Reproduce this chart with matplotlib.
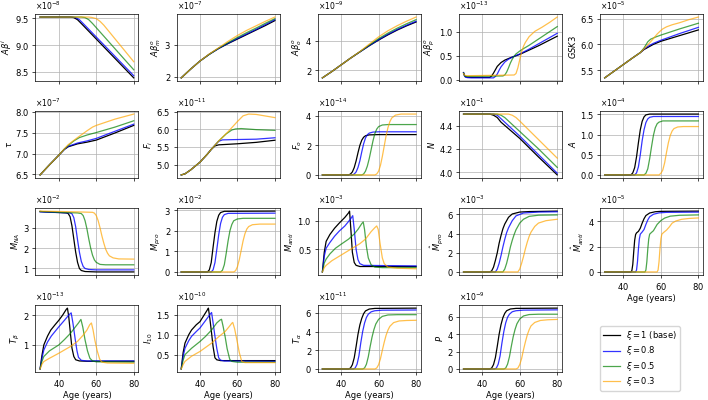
import matplotlib
matplotlib.use("Agg")
import matplotlib.pyplot as plt

plt.rcParams.update({'font.size': 6,
                     'axes.formatter.use_mathtext': True,
                     'axes.linewidth': 0.5,
                     'xtick.major.size': 2, 'ytick.major.size': 2,
                     'xtick.major.width': 0.5, 'ytick.major.width': 0.5,
                     'xtick.major.pad': 2, 'ytick.major.pad': 2,
                     'grid.linewidth': 0.5,
                     'axes.labelpad': 2})

# each panel: 4 curves (xi = 1, 0.8, 0.5, 0.3), points are (age, value / scale)
legend_labels = [r'$\xi = 1$ (base)', r'$\xi = 0.8$', r'$\xi = 0.5$', r'$\xi = 0.3$']
age_ticks = [40, 60, 80]

abi = [
    [(30, 9.52), (46, 9.52), (48, 9.51), (50, 9.47), (52, 9.40), (80, 8.39)],
    [(30, 9.52), (47, 9.52), (49, 9.51), (51, 9.47), (53, 9.40), (80, 8.43)],
    [(30, 9.52), (52, 9.52), (54, 9.51), (56, 9.47), (58, 9.40), (80, 8.54)],
    [(30, 9.52), (56, 9.52), (58, 9.51), (60, 9.49), (62, 9.44), (64, 9.37), (80, 8.69)],
]
abm = [
    [(30, 1.97), (35, 2.24), (40, 2.49), (45, 2.70), (50, 2.88), (55, 3.03), (60, 3.17), (65, 3.31), (70, 3.45), (75, 3.59), (80, 3.74)],
    [(30, 1.97), (35, 2.24), (40, 2.49), (45, 2.70), (50, 2.88), (55, 3.04), (60, 3.19), (65, 3.33), (70, 3.47), (75, 3.62), (80, 3.77)],
    [(30, 1.97), (35, 2.24), (40, 2.49), (45, 2.70), (50, 2.89), (55, 3.06), (60, 3.22), (65, 3.37), (70, 3.51), (75, 3.66), (80, 3.80)],
    [(30, 1.97), (35, 2.24), (40, 2.49), (45, 2.71), (50, 2.90), (55, 3.10), (60, 3.28), (65, 3.44), (70, 3.58), (75, 3.72), (80, 3.85)],
]
abo = [
    [(30, 1.47), (35, 1.90), (40, 2.36), (45, 2.82), (50, 3.25), (55, 3.67), (60, 4.06), (65, 4.42), (70, 4.75), (75, 5.04), (80, 5.30)],
    [(30, 1.47), (35, 1.90), (40, 2.36), (45, 2.82), (50, 3.25), (55, 3.68), (60, 4.09), (65, 4.46), (70, 4.79), (75, 5.08), (80, 5.35)],
    [(30, 1.47), (35, 1.90), (40, 2.36), (45, 2.82), (50, 3.26), (55, 3.72), (60, 4.16), (65, 4.54), (70, 4.88), (75, 5.18), (80, 5.46)],
    [(30, 1.47), (35, 1.90), (40, 2.36), (45, 2.82), (50, 3.27), (55, 3.78), (60, 4.28), (65, 4.70), (70, 5.05), (75, 5.36), (80, 5.64)],
]
abp = [
    [(30, 0.15), (30.5, 0.09), (31, 0.065), (32, 0.055), (34, 0.05), (44, 0.05), (45, 0.08), (46, 0.14), (47, 0.21), (48, 0.28),
     (50, 0.36), (52, 0.41), (55, 0.46), (60, 0.53), (65, 0.62), (70, 0.71), (75, 0.81), (80, 0.91)],
    [(30, 0.15), (30.5, 0.08), (31, 0.055), (32, 0.045), (34, 0.04), (46, 0.04), (47, 0.07), (48, 0.12), (49, 0.20), (50, 0.27),
     (52, 0.37), (54, 0.43), (57, 0.49), (60, 0.54), (65, 0.64), (70, 0.75), (75, 0.86), (80, 0.97)],
    [(30, 0.14), (30.5, 0.09), (31, 0.075), (32, 0.07), (40, 0.075), (51, 0.08), (52, 0.10), (53, 0.16), (54, 0.25), (55, 0.35),
     (56, 0.43), (57, 0.49), (58, 0.54), (60, 0.60), (62, 0.65), (65, 0.72), (70, 0.85), (75, 0.98), (80, 1.11)],
    [(30, 0.13), (30.5, 0.10), (31, 0.09), (32, 0.085), (40, 0.09), (50, 0.095), (57, 0.10), (58, 0.13), (59, 0.25), (60, 0.42),
     (61, 0.58), (62, 0.70), (63, 0.78), (65, 0.90), (68, 1.01), (72, 1.10), (76, 1.20), (80, 1.31)],
]
gsk3 = [
    [(30, 5.35), (35, 5.48), (40, 5.61), (45, 5.74), (49, 5.84), (51, 5.90), (53, 5.94), (56, 6.00), (60, 6.06), (70, 6.17), (80, 6.28)],
    [(30, 5.35), (35, 5.48), (40, 5.61), (45, 5.74), (49, 5.84), (51, 5.91), (53, 5.96), (56, 6.02), (60, 6.08), (70, 6.21), (80, 6.33)],
    [(30, 5.35), (35, 5.48), (40, 5.61), (45, 5.74), (49, 5.84), (51, 5.93), (53, 6.05), (54.5, 6.10), (57, 6.14), (60, 6.18),
     (70, 6.30), (80, 6.41)],
    [(30, 5.35), (35, 5.48), (40, 5.61), (45, 5.74), (49, 5.84), (52, 5.95), (55, 6.07), (58, 6.20), (60, 6.27), (61, 6.30),
     (63, 6.34), (66, 6.38), (70, 6.42), (75, 6.48), (80, 6.53)],
]
tau = [
    [(30, 6.49), (35, 6.73), (40, 6.96), (43, 7.10), (45, 7.16), (50, 7.23), (55, 7.27), (60, 7.32), (70, 7.49), (80, 7.67)],
    [(30, 6.49), (35, 6.73), (40, 6.96), (43, 7.10), (45, 7.17), (50, 7.25), (55, 7.30), (60, 7.36), (70, 7.53), (80, 7.70)],
    [(30, 6.49), (35, 6.73), (40, 6.96), (43, 7.11), (45, 7.19), (48, 7.30), (51, 7.38), (55, 7.44), (60, 7.50), (70, 7.63), (80, 7.78)],
    [(30, 6.49), (35, 6.73), (40, 6.96), (43, 7.11), (45, 7.21), (50, 7.38), (55, 7.54), (58, 7.63), (60, 7.67), (62, 7.70),
     (70, 7.82), (80, 7.94)],
]
f_i = [
    [(30, 4.71), (32, 4.74), (35, 4.85), (40, 5.07), (44, 5.30), (46, 5.43), (48, 5.53), (50, 5.56), (60, 5.59), (70, 5.63), (80, 5.69)],
    [(30, 4.71), (32, 4.74), (35, 4.85), (40, 5.07), (44, 5.30), (46, 5.43), (48, 5.55), (50, 5.66), (52, 5.70), (60, 5.71),
     (70, 5.72), (80, 5.76)],
    [(30, 4.71), (32, 4.74), (35, 4.85), (40, 5.07), (44, 5.30), (46, 5.43), (48, 5.55), (50, 5.67), (54, 5.87), (57, 5.98),
     (59, 6.01), (62, 6.02), (70, 5.99), (80, 5.97)],
    [(30, 4.71), (32, 4.74), (35, 4.85), (40, 5.07), (44, 5.30), (46, 5.43), (48, 5.55), (50, 5.67), (55, 5.93), (60, 6.22),
     (63, 6.38), (66, 6.43), (70, 6.42), (80, 6.33)],
]
f_o = [
    [(30, 0), (44, 0), (45, 0.06), (46, 0.2), (47, 0.5), (48, 0.95), (49, 1.5), (50, 2.0), (51, 2.35), (52, 2.55), (53, 2.65),
     (55, 2.71), (60, 2.73), (80, 2.73)],
    [(30, 0), (46, 0), (47, 0.06), (48, 0.2), (49, 0.5), (50, 0.95), (51, 1.55), (52, 2.1), (53, 2.5), (54, 2.72), (55, 2.83),
     (57, 2.9), (60, 2.92), (80, 2.92)],
    [(30, 0), (51, 0), (52, 0.06), (53, 0.25), (54, 0.6), (55, 1.1), (56, 1.7), (57, 2.3), (58, 2.8), (59, 3.1), (60, 3.27),
     (62, 3.38), (65, 3.41), (80, 3.41)],
    [(30, 0), (58, 0), (59, 0.06), (60, 0.25), (61, 0.65), (62, 1.25), (63, 1.95), (64, 2.65), (65, 3.2), (66, 3.6), (67, 3.85),
     (69, 4.05), (72, 4.12), (80, 4.12)],
]
neu = [
    [(30, 4.50), (44, 4.50), (46, 4.49), (48, 4.47), (50, 4.43), (60, 4.29), (70, 4.13), (80, 3.975)],
    [(30, 4.50), (46, 4.50), (48, 4.49), (50, 4.46), (52, 4.43), (60, 4.31), (70, 4.15), (80, 3.99)],
    [(30, 4.50), (48, 4.50), (50, 4.49), (52, 4.47), (54, 4.44), (60, 4.35), (70, 4.20), (80, 4.04)],
    [(30, 4.50), (54, 4.50), (56, 4.49), (58, 4.47), (60, 4.44), (70, 4.28), (80, 4.12)],
]
astro = [
    [(30, 0), (44, 0), (45, 0.05), (46, 0.18), (47, 0.45), (48, 0.8), (49, 1.12), (50, 1.33), (51, 1.44), (52, 1.49),
     (54, 1.51), (80, 1.51)],
    [(30, 0), (46, 0), (47, 0.05), (48, 0.2), (49, 0.5), (50, 0.85), (51, 1.12), (52, 1.3), (53, 1.39), (54, 1.43),
     (56, 1.45), (80, 1.45)],
    [(30, 0), (51, 0), (52, 0.04), (53, 0.15), (54, 0.4), (55, 0.7), (56, 0.98), (57, 1.17), (58, 1.27), (59, 1.31),
     (61, 1.34), (80, 1.34)],
    [(30, 0), (59, 0), (60, 0.04), (61, 0.12), (62, 0.3), (63, 0.56), (64, 0.8), (65, 0.98), (66, 1.09), (67, 1.15),
     (69, 1.19), (72, 1.2), (80, 1.2)],
]
m_na = [
    [(30, 3.80), (35, 3.77), (40, 3.75), (44, 3.73), (45, 3.70), (46, 3.55), (47, 3.1), (48, 2.45), (49, 1.8), (50, 1.3),
     (51, 1.0), (52, 0.9), (54, 0.85), (60, 0.83), (80, 0.83)],
    [(30, 3.78), (35, 3.76), (40, 3.75), (46, 3.73), (47, 3.69), (48, 3.5), (49, 3.05), (50, 2.4), (51, 1.8), (52, 1.35),
     (53, 1.1), (54, 1.0), (56, 0.95), (60, 0.93), (80, 0.93)],
    [(30, 3.80), (40, 3.76), (50, 3.73), (52, 3.70), (53, 3.6), (54, 3.35), (55, 2.95), (56, 2.45), (57, 2.0), (58, 1.65),
     (59, 1.42), (60, 1.3), (62, 1.2), (65, 1.18), (80, 1.18)],
    [(30, 3.82), (40, 3.80), (50, 3.78), (58, 3.76), (59, 3.72), (60, 3.6), (61, 3.35), (62, 3.0), (63, 2.6), (64, 2.25),
     (65, 1.95), (66, 1.75), (67, 1.62), (69, 1.52), (72, 1.47), (80, 1.46)],
]
m_pro = [
    [(30, 0), (44, 0), (45, 0.1), (46, 0.45), (47, 1.2), (48, 1.9), (49, 2.45), (50, 2.75), (51, 2.88), (53, 2.94), (80, 2.95)],
    [(30, 0), (46, 0), (47, 0.1), (48, 0.45), (49, 1.1), (50, 1.8), (51, 2.35), (52, 2.65), (53, 2.78), (55, 2.84), (80, 2.85)],
    [(30, 0), (51, 0), (52, 0.08), (53, 0.35), (54, 0.9), (55, 1.5), (56, 2.0), (57, 2.3), (58, 2.48), (60, 2.57),
     (63, 2.6), (80, 2.6)],
    [(30, 0), (58, 0), (59, 0.06), (60, 0.25), (61, 0.6), (62, 1.05), (63, 1.5), (64, 1.85), (65, 2.08), (66, 2.2),
     (68, 2.29), (72, 2.32), (80, 2.32)],
]
m_anti = [
    [(30, 0.105), (31, 0.45), (32, 0.64), (34, 0.76), (36.5, 0.87), (39, 0.96), (42, 1.06), (44, 1.14), (44.5, 1.17),
     (45.2, 0.85), (46, 0.45), (47, 0.27), (48, 0.22), (50, 0.20), (80, 0.20)],
    [(30, 0.105), (31, 0.38), (32, 0.52), (34, 0.62), (36.5, 0.73), (39, 0.82), (42, 0.91), (45, 1.03), (46.2, 1.09),
     (47, 0.85), (48, 0.5), (49, 0.32), (50, 0.25), (52, 0.22), (80, 0.21)],
    [(30, 0.105), (31, 0.26), (32, 0.33), (34, 0.42), (37, 0.52), (40, 0.59), (44, 0.68), (47, 0.77), (49, 0.85),
     (51, 0.95), (51.8, 0.98), (52.5, 0.85), (53.5, 0.55), (54.5, 0.35), (56, 0.23), (58, 0.19), (62, 0.18), (80, 0.18)],
    [(30, 0.105), (31, 0.18), (32, 0.22), (35, 0.30), (40, 0.40), (45, 0.50), (50, 0.60), (53, 0.68), (56, 0.81),
     (58, 0.88), (59, 0.91), (59.8, 0.85), (60.8, 0.6), (62, 0.35), (63, 0.25), (65, 0.19), (70, 0.17), (80, 0.16)],
]
mh_pro = [
    [(30, 0), (44, 0), (45, 0.1), (46, 0.5), (47, 1.2), (48, 2.0), (49, 3.0), (50, 3.8), (51, 4.5), (52, 5.0), (54, 5.7),
     (56, 6.05), (60, 6.25), (65, 6.3), (80, 6.35)],
    [(30, 0), (47, 0), (48, 0.3), (49, 0.9), (50, 1.7), (51, 2.6), (52, 3.4), (53, 4.1), (54, 4.6), (56, 5.35), (58, 5.85),
     (62, 6.15), (70, 6.25), (80, 6.28)],
    [(30, 0), (51, 0), (52, 0.3), (53, 0.9), (54, 1.7), (55, 2.6), (56, 3.3), (57, 3.9), (58, 4.4), (60, 5.1), (62, 5.5),
     (65, 5.8), (70, 5.92), (80, 5.95)],
    [(30, 0), (59, 0), (60, 0.3), (61, 0.9), (62, 1.6), (63, 2.4), (64, 3.1), (65, 3.7), (66, 4.15), (68, 4.75), (70, 5.1),
     (74, 5.35), (80, 5.5)],
]
mh_anti = [
    [(30, 0), (44, 0), (44.5, 0.1), (45, 0.6), (45.5, 1.6), (46, 2.5), (46.5, 2.95), (47, 3.08), (48, 3.2), (49, 3.45),
     (50, 3.85), (51, 4.2), (52, 4.45), (54, 4.65), (57, 4.75), (60, 4.78), (80, 4.8)],
    [(30, 0), (46.5, 0), (47, 0.15), (47.5, 0.8), (48, 1.8), (48.5, 2.6), (49, 2.98), (50, 3.15), (51, 3.35), (52, 3.75),
     (53, 4.1), (54, 4.35), (56, 4.55), (59, 4.66), (63, 4.7), (80, 4.72)],
    [(30, 0), (51.5, 0), (52, 0.15), (52.5, 0.8), (53, 1.8), (53.5, 2.6), (54, 2.98), (55, 3.12), (56, 3.25), (57, 3.5),
     (58, 3.75), (60, 4.05), (62, 4.25), (65, 4.4), (70, 4.47), (80, 4.5)],
    [(30, 0), (58, 0), (58.5, 0.15), (59, 0.8), (59.5, 1.8), (60, 2.6), (60.5, 2.98), (61.5, 3.12), (63, 3.3), (64.5, 3.55),
     (66, 3.85), (68, 4.02), (71, 4.15), (75, 4.22), (80, 4.26)],
]
t_beta = [
    [(30, 0.19), (31, 0.65), (32, 1.0), (34, 1.3), (35.7, 1.5), (38, 1.68), (40, 1.83), (42, 2.0), (44, 2.2), (44.6, 2.24),
     (45.3, 1.95), (46.2, 1.39), (47, 0.9), (48, 0.61), (49, 0.5), (51, 0.46), (55, 0.45), (80, 0.45)],
    [(30, 0.19), (31, 0.55), (32, 0.83), (34, 1.1), (36, 1.3), (40, 1.61), (43, 1.83), (45.5, 2.02), (46.6, 2.08),
     (47.5, 1.75), (48.8, 1.17), (49.7, 0.8), (50.5, 0.58), (52, 0.48), (55, 0.46), (80, 0.46)],
    [(30, 0.19), (31, 0.45), (32, 0.61), (35, 0.8), (40, 1.0), (43, 1.18), (46.2, 1.39), (49, 1.62), (50.5, 1.74),
     (51.8, 1.86), (52.8, 1.6), (54, 1.17), (55.3, 0.8), (56.6, 0.55), (58, 0.46), (60, 0.43), (80, 0.42)],
    [(30, 0.19), (31, 0.35), (32, 0.44), (35, 0.55), (40, 0.72), (46, 0.94), (50, 1.12), (53, 1.33), (55, 1.5),
     (56.5, 1.68), (57.4, 1.74), (58.3, 1.5), (59.2, 1.17), (60.5, 0.8), (61.8, 0.52), (63, 0.42), (66, 0.39), (80, 0.38)],
]
i_10 = [
    [(30, 0.14), (31, 0.55), (32, 0.79), (34, 1.0), (35.5, 1.12), (38, 1.25), (40, 1.33), (42, 1.48), (44, 1.63),
     (44.5, 1.67), (45.3, 1.4), (46.2, 1.04), (47, 0.7), (48, 0.42), (49, 0.37), (51, 0.35), (80, 0.35)],
    [(30, 0.14), (31, 0.45), (32, 0.66), (34, 0.85), (35.5, 0.96), (38, 1.08), (40, 1.17), (43, 1.36), (45.5, 1.52),
     (46.2, 1.56), (47, 1.3), (48, 0.96), (49, 0.65), (50, 0.42), (51, 0.36), (53, 0.34), (80, 0.33)],
    [(30, 0.14), (31, 0.36), (32, 0.5), (35.5, 0.66), (40, 0.83), (43, 0.96), (46.2, 1.12), (49, 1.3), (50.7, 1.37),
     (51.5, 1.39), (52.4, 1.2), (53.4, 0.96), (54.5, 0.65), (55.9, 0.38), (57, 0.33), (60, 0.31), (80, 0.31)],
    [(30, 0.14), (31, 0.25), (32, 0.33), (35.5, 0.46), (40, 0.58), (46.2, 0.79), (50, 0.95), (53.4, 1.08), (55.5, 1.2),
     (57, 1.29), (57.5, 1.31), (58.5, 1.15), (59.7, 0.87), (61, 0.55), (62.3, 0.33), (64, 0.3), (80, 0.3)],
]
t_alpha = [
    [(30, 0), (44, 0), (45, 0.1), (46, 0.45), (47, 1.2), (48, 2.4), (49, 3.7), (50, 4.7), (51, 5.4), (52, 5.9), (53, 6.2),
     (55, 6.4), (58, 6.47), (80, 6.5)],
    [(30, 0), (46.5, 0), (47.5, 0.1), (48.5, 0.5), (49.5, 1.4), (50.5, 2.8), (51.5, 4.0), (52.5, 4.9), (53.5, 5.5),
     (54.5, 5.85), (56, 6.1), (58, 6.22), (62, 6.28), (80, 6.3)],
    [(30, 0), (51.5, 0), (52.5, 0.1), (53.5, 0.5), (54.5, 1.3), (55.5, 2.4), (56.5, 3.4), (57.5, 4.2), (58.5, 4.8),
     (60, 5.3), (62, 5.62), (65, 5.77), (70, 5.8), (80, 5.8)],
    [(30, 0), (58, 0), (59, 0.1), (60, 0.45), (61, 1.1), (62, 2.0), (63, 2.85), (64, 3.6), (65, 4.15), (66, 4.55),
     (68, 4.95), (71, 5.13), (75, 5.18), (80, 5.2)],
]
prod = [
    [(30, 0), (44, 0), (45, 0.1), (46, 0.5), (47, 1.3), (48, 2.6), (49, 4.0), (50, 5.1), (51, 5.9), (52, 6.4), (53, 6.7),
     (55, 6.9), (58, 6.97), (80, 7.0)],
    [(30, 0), (46.5, 0), (47.5, 0.1), (48.5, 0.55), (49.5, 1.5), (50.5, 3.0), (51.5, 4.3), (52.5, 5.3), (53.5, 5.95),
     (54.5, 6.3), (56, 6.58), (58, 6.7), (62, 6.77), (80, 6.8)],
    [(30, 0), (51.5, 0), (52.5, 0.1), (53.5, 0.55), (54.5, 1.4), (55.5, 2.6), (56.5, 3.7), (57.5, 4.55), (58.5, 5.2),
     (60, 5.75), (62, 6.1), (65, 6.26), (70, 6.3), (80, 6.3)],
    [(30, 0), (58, 0), (59, 0.1), (60, 0.5), (61, 1.2), (62, 2.2), (63, 3.1), (64, 3.9), (65, 4.5), (66, 4.95),
     (68, 5.35), (71, 5.58), (75, 5.66), (80, 5.7)],
]

panels = [
    (r'$A\beta^i$', 1e-8, abi),
    (r'$A\beta^o_m$', 1e-7, abm),
    (r'$A\beta^o_o$', 1e-9, abo),
    (r'$A\beta^o_p$', 1e-13, abp),
    (r'$GSK3$', 1e-5, gsk3),
    (r'$\tau$', 1e-7, tau),
    (r'$F_i$', 1e-11, f_i),
    (r'$F_o$', 1e-14, f_o),
    (r'$N$', 1e-1, neu),
    (r'$A$', 1e-4, astro),
    (r'$M_{NA}$', 1e-2, m_na),
    (r'$M_{pro}$', 1e-2, m_pro),
    (r'$M_{anti}$', 1e-3, m_anti),
    (r'$\hat{M}_{pro}$', 1e-3, mh_pro),
    (r'$\hat{M}_{anti}$', 1e-5, mh_anti),
    (r'$T_\beta$', 1e-13, t_beta),
    (r'$I_{10}$', 1e-10, i_10),
    (r'$T_\alpha$', 1e-11, t_alpha),
    (r'$P$', 1e-9, prod),
]

colors = ['black', 'blue', 'green', 'orange']
alphas = [1.0, 0.8, 0.7, 0.7]

fig, axes = plt.subplots(4, 5, figsize=(7.08, 4.0), dpi=100)
fig.subplots_adjust(left=0.05, right=0.993, bottom=0.07, top=0.965, wspace=0.37, hspace=0.45)

for i, (ylab, scale, curves) in enumerate(panels):
    ax = axes.flat[i]
    for pts, col, a, lab in zip(curves, colors, alphas, legend_labels):
        x = [p[0] for p in pts]
        y = [p[1] * scale for p in pts]
        ax.plot(x, y, color=col, alpha=a, lw=0.9, label=lab)
    ax.set_ylabel(ylab, labelpad=1)
    ax.ticklabel_format(axis='y', style='sci', scilimits=(0, 0))
    ax.yaxis.get_offset_text().set_fontsize(5.5)
    ax.set_xticks(age_ticks)
    ax.set_xlim(27.5, 82.5)
    ax.grid(True)
    if i >= 14:
        ax.set_xlabel('Age (years)')
    else:
        ax.tick_params(labelbottom=False)

# legend in the empty last slot
handles, labels = axes.flat[0].get_legend_handles_labels()
axes.flat[19].axis('off')
axes.flat[19].legend(handles, labels, loc='upper left', bbox_to_anchor=(0.0, 0.68),
                     borderaxespad=0, labelspacing=0.25, borderpad=0.35)

fig.savefig('out.png', dpi=100)
